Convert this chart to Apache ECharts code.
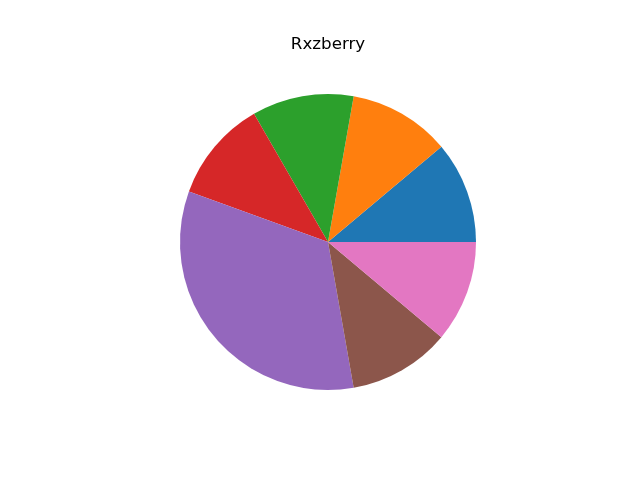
<!DOCTYPE html>
<html>
<head>
<meta charset="utf-8">
<script src="https://cdn.jsdelivr.net/npm/echarts@6/dist/echarts.min.js"></script>
<style>html,body{margin:0;padding:0;background:#fff;}#c{width:640px;height:480px;}</style>
</head>
<body>
<div id="c"></div>
<script>
const titleText = "Rxzberry";
const categories = ["A", "B", "C", "D", "E", "F", "G"];
const values = [1, 1, 1, 1, 3, 1, 1];
const colors = ["#1f77b4", "#ff7f0e", "#2ca02c", "#d62728", "#9467bd", "#8c564b", "#e377c2"];

const chart = echarts.init(document.getElementById('c'), null, {renderer: 'canvas'});
chart.setOption({
  animation: false,
  backgroundColor: '#ffffff',
  title: {
    text: titleText,
    left: 323,
    textAlign: 'center',
    top: 31,
    textStyle: {fontFamily: 'DejaVu Sans', fontSize: 16.7, fontWeight: 'normal', color: '#000'}
  },
  series: [{
    type: 'pie',
    center: [328, 242],
    radius: [0, 148],
    startAngle: 0,
    clockwise: false,
    label: {show: false},
    labelLine: {show: false},
    emphasis: {disabled: true},
    itemStyle: {borderWidth: 0},
    data: categories.map((c, i) => ({name: c, value: values[i], itemStyle: {color: colors[i]}}))
  }]
});
</script>
</body>
</html>
